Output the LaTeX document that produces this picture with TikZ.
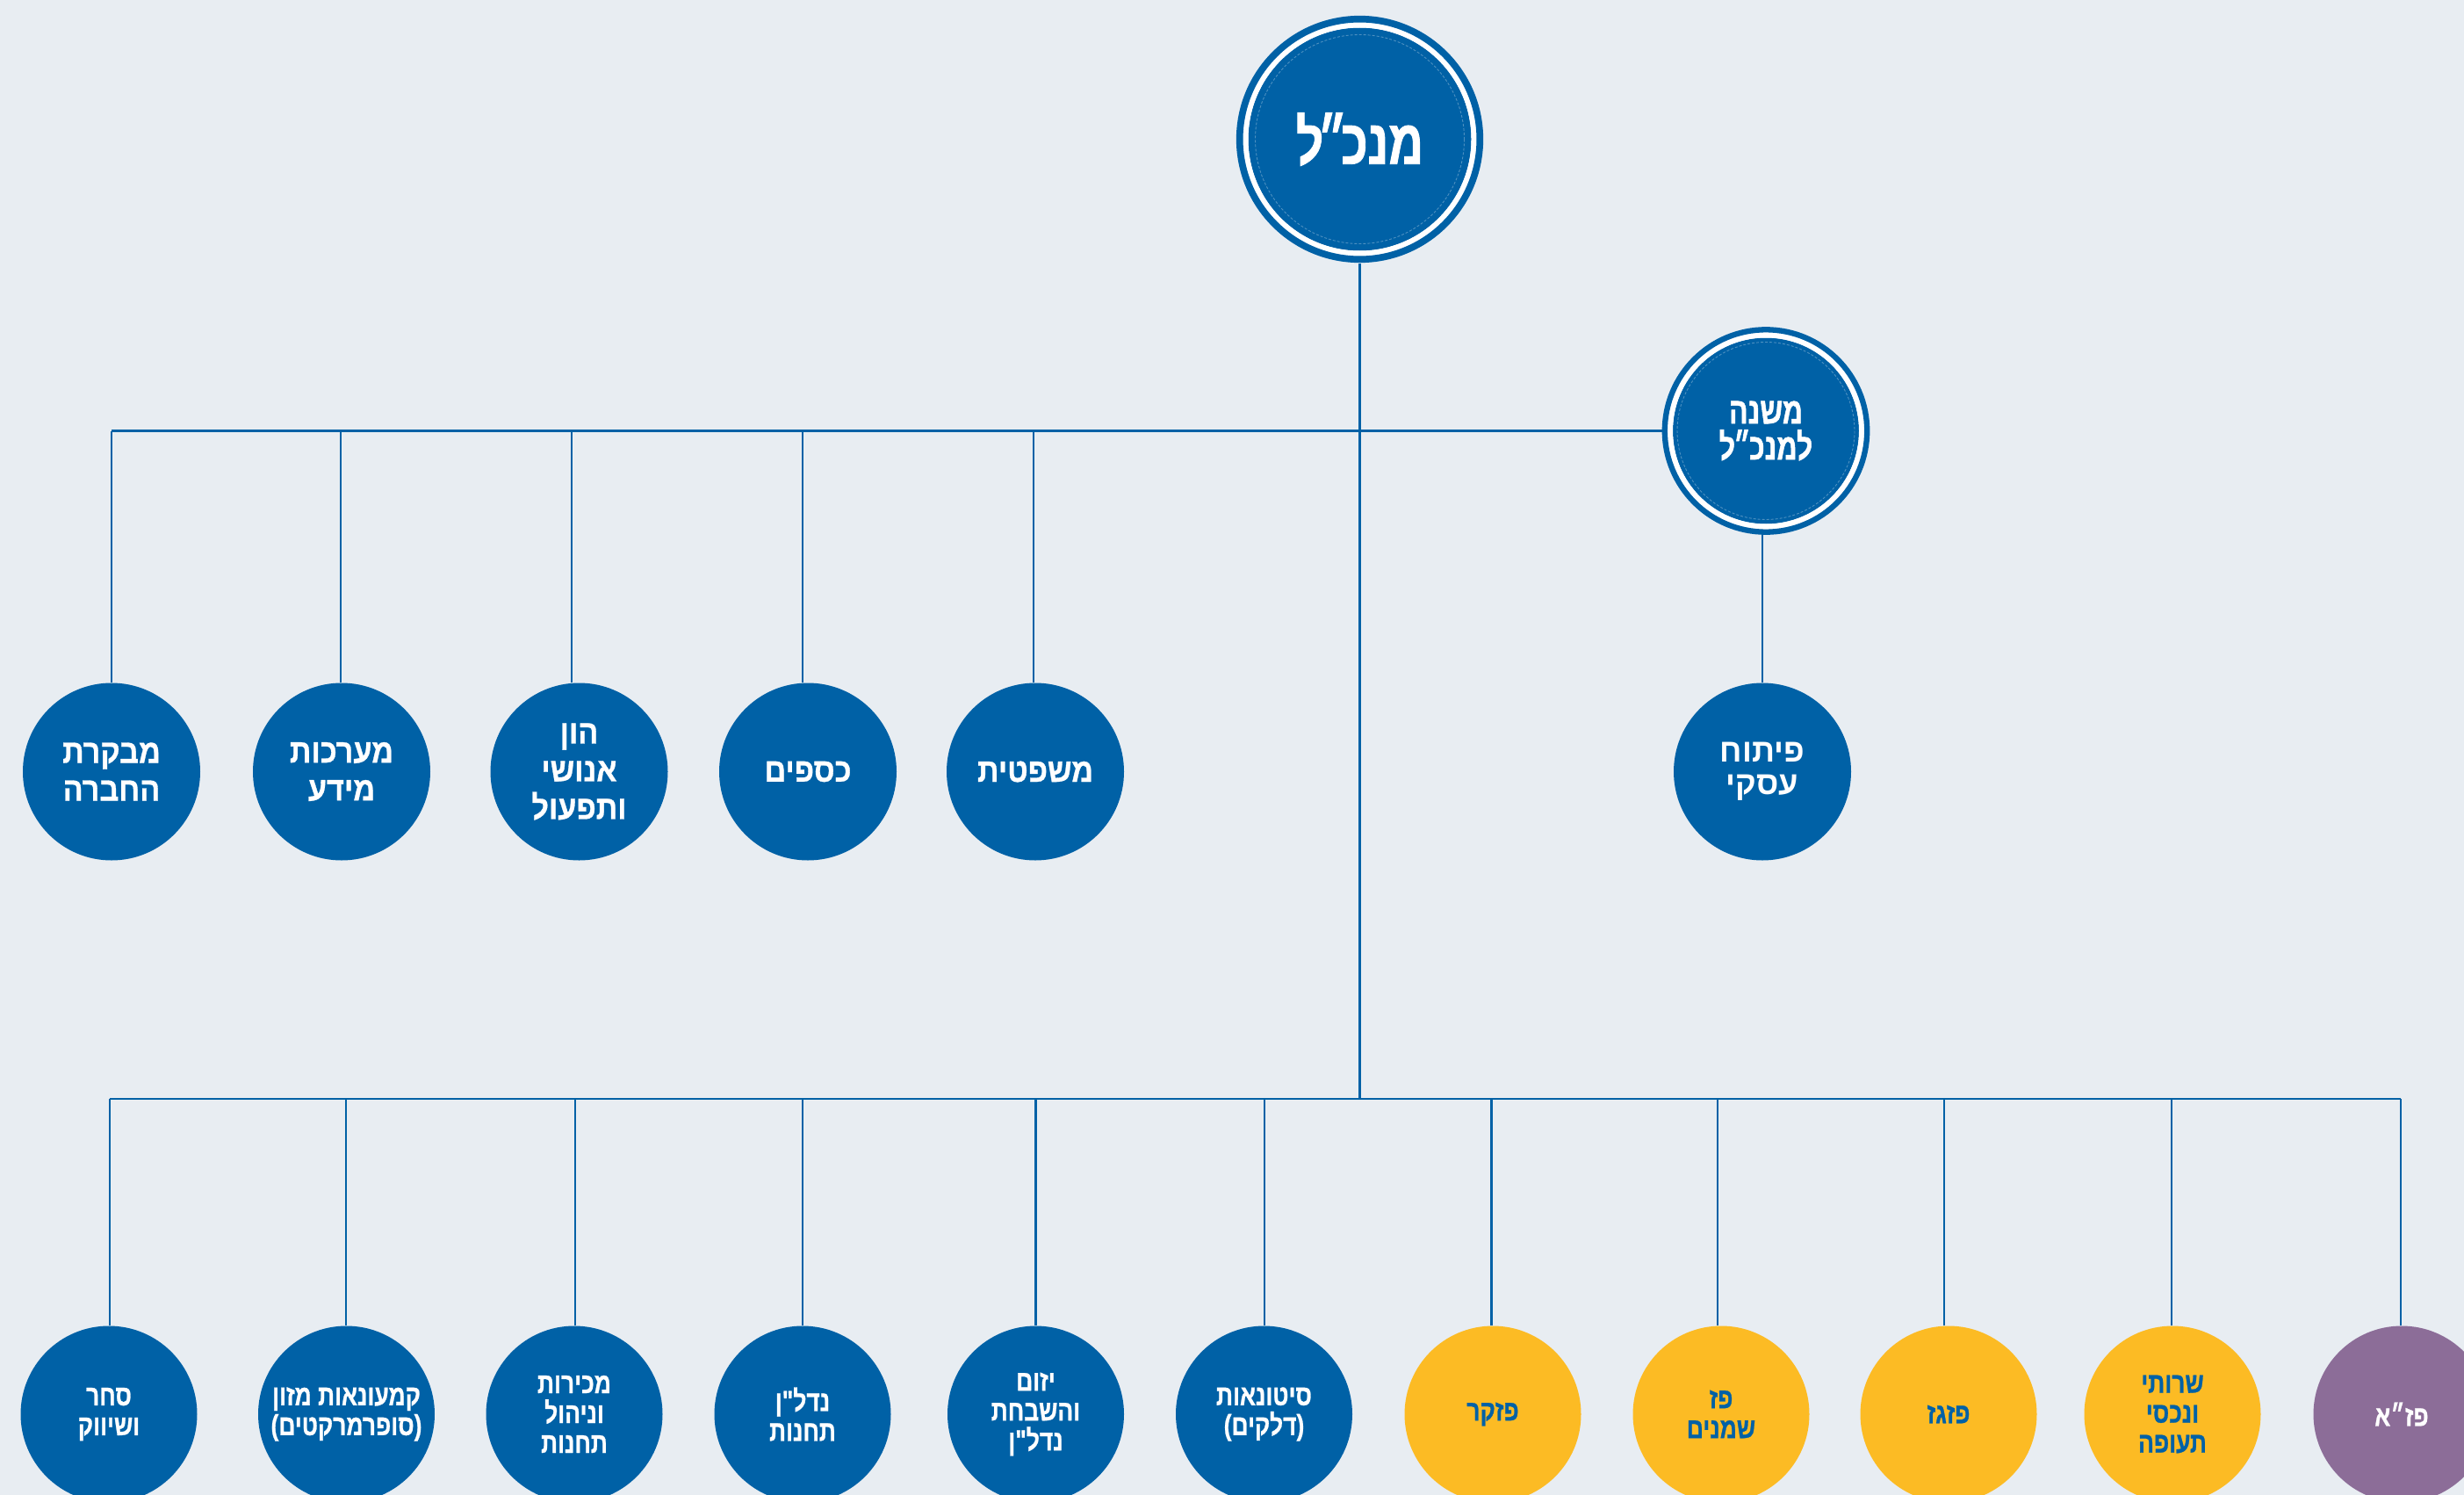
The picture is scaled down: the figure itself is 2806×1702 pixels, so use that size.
\documentclass[tikz,border=0pt]{standalone}
\usepackage{fontspec}
\TeXXeTstate=1
\newfontfamily\hebA[Script=Hebrew,FakeStretch=0.76,BoldFeatures={FakeBold=1.2}]{Liberation Sans}
\newfontfamily\hebB[Script=Hebrew,FakeStretch=0.90,BoldFeatures={FakeBold=0.8}]{Liberation Sans}
\newfontfamily\hebC[Script=Hebrew,FakeStretch=0.80,BoldFeatures={FakeBold=0.8}]{Liberation Sans}
\newfontfamily\hebD[Script=Hebrew,FakeStretch=0.98]{Liberation Sans}
\definecolor{pzblue}{RGB}{0,97,166}
\definecolor{pzyellow}{RGB}{252,187,36}
\definecolor{pzpurple}{RGB}{140,109,152}
\definecolor{pzbg}{RGB}{232,237,242}
\newcommand{\R}[1]{\beginR #1\endR}
\tikzset{
  conn/.style={draw=pzblue, line width=2.2},
  unit/.style={circle, inner sep=0pt, minimum size=202, align=center, fill=pzblue, text=white},
  midunit/.style={unit, font=\hebB\bfseries\fontsize{38}{43}\selectfont},
  botunit/.style={unit, minimum size=201, font=\hebC\bfseries\fontsize{33}{34}\selectfont},
  yunit/.style={botunit, fill=pzyellow, text=pzblue},
  punit/.style={botunit, fill=pzpurple, text=white},
  thinring/.style={draw=white, draw opacity=0.3, line width=0.9, dash pattern=on 3 off 2},
}
\begin{document}
\begin{tikzpicture}[x=1pt,y=-1pt]
\useasboundingbox (0,0) rectangle (2806,1702);
\fill[pzbg] (0,0) rectangle (2806,1702);

% top managers
\node[unit, minimum size=254, font=\hebA\bfseries\fontsize{72}{72}\selectfont] (ceo) at (1548.5,158.5) {\R{מנכ\kern-7pt״\kern-7ptל}};
\draw[white, line width=6] (ceo.center) circle (130);
\draw[pzblue, line width=7.7] (ceo.center) circle (136.8);
\draw[thinring] (ceo.center) circle (119);

\node[unit, minimum size=212, font=\hebA\bfseries\fontsize{42}{41}\selectfont] (dep) at (2011,490.5) {\R{משנה}\\\R{למנכ\kern-2pt״\kern-2ptל}};
\draw[white, line width=6] (dep.center) circle (109);
\draw[pzblue, line width=6.3] (dep.center) circle (115.2);
\draw[thinring] (dep.center) circle (101);

% middle row
\node[midunit] (m1) at (127,878.5) {\R{מבקרת}\\\R{החברה}};
\node[midunit] (m2) at (389,878.5) {\R{מערכות}\\\R{מידע}};
\node[midunit] (m3) at (659.5,878.5) {\R{הון}\\\R{אנושי}\\\R{ותפעול}};
\node[midunit] (m4) at (920,878.5) {\R{כספים}};
\node[midunit] (m5) at (1179,878.5) {\R{משפטית}};
\node[unit, font=\hebD\bfseries\fontsize{37}{37}\selectfont] (biz) at (2007,878.5) {\R{פיתוח}\\\R{עסקי}};

% bottom row
\node[botunit] (b1) at (124,1610) {\R{סחר}\\\R{ושיווק}};
\node[botunit] (b2) at (394.5,1610) {\R{קמעונאות מזון}\\\R{(סופרמרקטים)}};
\node[botunit] (b3) at (654,1610) {\R{מכירות}\\\R{וניהול}\\\R{תחנות}};
\node[botunit] (b4) at (914,1610) {\R{נדל"ן}\\\R{תחנות}};
\node[botunit] (b5) at (1179.5,1610) {\R{יזום}\\\R{והשבחת}\\\R{נדל"ן}};
\node[botunit] (b6) at (1439.5,1610) {\R{סיטונאות}\\\R{(דלקים)}};
\node[yunit] (b7) at (1700,1610) {\R{פזקר}};
\node[yunit] (b8) at (1960,1610) {\R{פז}\\\R{שמנים}};
\node[yunit] (b9) at (2219,1610) {\R{פזגז}};
\node[yunit] (b10) at (2474,1610) {\R{שרותי}\\\R{ונכסי}\\\R{תעופה}};
\node[punit] (b11) at (2735,1610) {\R{פז״א}};

% bus junctions
\coordinate (ml) at (127,490.5);
\coordinate (jb) at (1548.5,1251);
\coordinate (bl) at (125,1251);
\coordinate (br) at (2734,1251);

% connectors
\draw[conn, shorten <=14] (ceo.south) -- (jb);
\draw[conn, shorten >=12] (ml) -- (dep.west);
\draw[conn, shorten >=12] (biz.north) -- (biz.north |- dep.south);
\draw[conn] (bl) -- (br);

\foreach \n/\x in {m1/127, m2/388, m3/651, m4/914, m5/1177}{
  \coordinate (t) at (\x,490.5);
  \draw[conn] (t) -- (t |- \n.north);
}
\foreach \n/\x in {b1/125, b2/394, b3/655, b4/914, b5/1179.5, b6/1440, b7/1698.5, b8/1956, b9/2214, b10/2473, b11/2734}{
  \coordinate (t) at (\x,1251);
  \draw[conn] (t) -- (t |- \n.north);
}
\end{tikzpicture}
\end{document}
